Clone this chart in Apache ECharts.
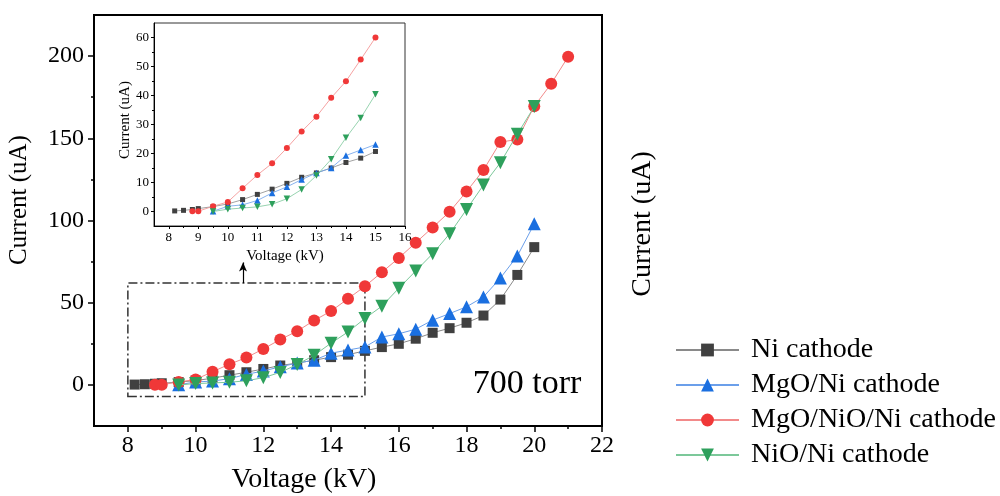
<!DOCTYPE html>
<html>
<head>
<meta charset="utf-8">
<script src="https://cdn.jsdelivr.net/npm/echarts@6/dist/echarts.min.js"></script>
<style>
html,body{margin:0;padding:0;background:#fff;}
#chart{width:1000px;height:496px;}
</style>
</head>
<body>
<div id="chart"></div>
<script>
// ---- data ----
const seriesNames = ['Ni cathode', 'MgO/Ni cathode', 'MgO/NiO/Ni cathode', 'NiO/Ni cathode'];

const niX = [8.2, 8.5, 8.8, 9, 9.5, 10, 10.5, 11, 11.5, 12, 12.5, 13, 13.5, 14, 14.5, 15, 15.5, 16, 16.5, 17, 17.5, 18, 18.5, 19, 19.5, 20];
const niY = [0.2, 0.4, 0.7, 1.0, 1.7, 2.6, 4.1, 5.9, 7.7, 9.7, 11.8, 13.3, 15.0, 16.9, 18.4, 20.7, 23.0, 25.0, 28.1, 31.7, 34.5, 37.8, 42.2, 51.9, 66.9, 83.8];

const mgoX = [9.5, 10, 10.5, 11, 11.5, 12, 12.5, 13, 13.5, 14, 14.5, 15, 15.5, 16, 16.5, 17, 17.5, 18, 18.5, 19, 19.5, 20];
const mgoY = [0.1, 1.8, 2.3, 3.8, 6.4, 8.5, 11.0, 13.3, 15.0, 19.3, 21.2, 23.1, 29.1, 31.1, 33.9, 39.4, 43.4, 47.5, 53.5, 65.0, 78.4, 98.0];

const mgoNioX = [8.8, 9, 9.5, 10, 10.5, 11, 11.5, 12, 12.5, 13, 13.5, 14, 14.5, 15, 15.5, 16, 16.5, 17, 17.5, 18, 18.5, 19, 19.5, 20, 20.5, 21];
const mgoNioY = [0.1, 0.1, 1.8, 3.3, 8.0, 12.6, 16.6, 21.9, 27.6, 32.7, 39.2, 44.9, 52.4, 60.0, 68.5, 77.2, 86.5, 95.8, 105.3, 117.6, 130.7, 147.7, 149.3, 169.5, 183.2, 199.6];

const nioX = [9.5, 10, 10.5, 11, 11.5, 12, 12.5, 13, 13.5, 14, 14.5, 15, 15.5, 16, 16.5, 17, 17.5, 18, 18.5, 19, 19.5, 20];
const nioY = [0.0, 0.8, 1.2, 1.6, 2.5, 4.4, 7.6, 12.4, 18.0, 25.4, 32.2, 40.4, 47.9, 58.8, 69.3, 79.8, 91.9, 106.7, 121.6, 135.2, 152.5, 169.3];

// tick labels
const mainXTicks = [8, 10, 12, 14, 16, 18, 20, 22];
const mainXMinor = [9, 11, 13, 15, 17, 19, 21];
const mainYTicks = [0, 50, 100, 150, 200];
const mainYMinor = [25, 75, 125, 175];
const insetXTicks = [8, 9, 10, 11, 12, 13, 14, 15, 16];
const insetXMinor = [8.5, 9.5, 10.5, 11.5, 12.5, 13.5, 14.5, 15.5];
const insetYTicks = [0, 10, 20, 30, 40, 50, 60];
const insetYMinor = [5, 15, 25, 35, 45, 55];
const insetMaxX = 15;

// zoom-box annotation (data coordinates)
const zoomBox = { x0: 8, x1: 15, y0: -7, y1: 62 };
const arrowX = 11.4, arrowTop = 74.5;

// ---- styling ----
const FONT = 'Liberation Serif';
const markerColors = ['#404040', '#1a6fe0', '#f03838', '#2ea05c'];
const lineColors = ['#8a8a8a', '#6b9fea', '#f28a8a', '#7cc89a'];
const symbols = ['rect', 'triangle', 'circle', 'triangle'];
const mainSizes = [10, 13, 12, 13];
const insetSizes = [5, 6.5, 6, 6.5];
const rotations = [0, 0, 0, 180];

const xsAll = [niX, mgoX, mgoNioX, nioX];
const ysAll = [niY, mgoY, mgoNioY, nioY];

function pairs(xs, ys, maxX) {
  const out = [];
  for (let i = 0; i < xs.length; i++) {
    if (maxX == null || xs[i] <= maxX) out.push([xs[i], ys[i]]);
  }
  return out;
}

function axisBase(gridIndex, position, min, max, ticks, tickLen, labels, fontSize, margin, lineW) {
  return {
    type: 'value', gridIndex, position, min, max,
    axisLine: { show: !!labels, onZero: false, lineStyle: { color: '#000', width: lineW } },
    axisTick: { show: true, customValues: ticks, length: tickLen, inside: false, lineStyle: { color: '#000', width: lineW } },
    axisLabel: labels ? { show: true, customValues: ticks, color: '#000', fontFamily: FONT, fontSize, margin } : { show: false },
    splitLine: { show: false },
    minorTick: { show: false },
    minorSplitLine: { show: false }
  };
}

const xAxes = [
  axisBase(0, 'bottom', 7, 22, mainXTicks, 6, true, 24, 8, 1.5),
  axisBase(0, 'bottom', 7, 22, mainXMinor, 3, false, 24, 8, 1.5),
  axisBase(1, 'bottom', 7.5, 16, insetXTicks, 3, true, 13, 5, 1),
  axisBase(1, 'bottom', 7.5, 16, insetXMinor, 2, false, 13, 5, 1)
];
const yAxes = [
  axisBase(0, 'left', -25, 225, mainYTicks, 6, true, 24, 10, 1.5),
  axisBase(0, 'left', -25, 225, mainYMinor, 3, false, 24, 10, 1.5),
  axisBase(1, 'left', -5, 65, insetYTicks, 3, true, 13, 5, 1),
  axisBase(1, 'left', -5, 65, insetYMinor, 2, false, 13, 5, 1)
];

const series = [];
for (let k = 0; k < 4; k++) {
  const main = {
    name: seriesNames[k], type: 'line', xAxisIndex: 0, yAxisIndex: 0,
    data: pairs(xsAll[k], ysAll[k]),
    symbol: symbols[k], symbolSize: mainSizes[k], symbolRotate: rotations[k],
    showAllSymbol: true,
    itemStyle: { color: markerColors[k] },
    lineStyle: { color: lineColors[k], width: 1 },
    z: 3 + k
  };
  if (k === 0) {
    main.markArea = {
      silent: true,
      itemStyle: { color: 'rgba(0,0,0,0)', borderColor: '#333', borderWidth: 1.5, borderType: [9, 3, 2, 3] },
      label: { show: false },
      data: [[{ coord: [zoomBox.x0, zoomBox.y0] }, { coord: [zoomBox.x1, zoomBox.y1] }]]
    };
    main.markLine = {
      silent: true, symbol: ['none', 'arrow'], symbolSize: [6, 9],
      label: { show: false },
      lineStyle: { color: '#000', width: 1.2, type: 'solid' },
      data: [[{ coord: [arrowX, zoomBox.y1] }, { coord: [arrowX, arrowTop] }]]
    };
  }
  series.push(main);
  series.push({
    name: seriesNames[k], type: 'line', xAxisIndex: 2, yAxisIndex: 2,
    data: pairs(xsAll[k], ysAll[k], insetMaxX),
    symbol: symbols[k], symbolSize: insetSizes[k], symbolRotate: rotations[k],
    showAllSymbol: true,
    itemStyle: { color: markerColors[k] },
    lineStyle: { color: lineColors[k], width: 0.8 },
    z: 3 + k
  });
}

const chart = echarts.init(document.getElementById('chart'), null, { renderer: 'canvas' });
chart.setOption({
  animation: false,
  backgroundColor: '#fff',
  grid: [
    { left: 94, top: 15, width: 508, height: 411, show: true, borderColor: '#000', borderWidth: 2, backgroundColor: 'transparent', containLabel: false },
    { left: 154, top: 23, width: 251, height: 203, show: true, borderColor: '#333', borderWidth: 1, backgroundColor: '#fff', containLabel: false }
  ],
  xAxis: xAxes,
  yAxis: yAxes,
  legend: {
    data: seriesNames,
    orient: 'vertical', left: 670, top: 330,
    itemWidth: 63, itemHeight: 16, itemGap: 5,
    textStyle: { fontFamily: FONT, fontSize: 28, color: '#000', lineHeight: 30, padding: [0, 0, 0, 7] }
  },
  graphic: [
    { type: 'text', x: 19, y: 200, rotation: Math.PI / 2, style: { text: 'Current (uA)', font: '25px "Liberation Serif"', fill: '#000', align: 'center', verticalAlign: 'middle' } },
    { type: 'text', x: 643, y: 224, rotation: Math.PI / 2, style: { text: 'Current (uA)', font: '28px "Liberation Serif"', fill: '#000', align: 'center', verticalAlign: 'middle' } },
    { type: 'text', x: 304, y: 480, style: { text: 'Voltage (kV)', font: '28px "Liberation Serif"', fill: '#000', align: 'center', verticalAlign: 'middle' } },
    { type: 'text', x: 125, y: 120, rotation: Math.PI / 2, style: { text: 'Current (uA)', font: '15px "Liberation Serif"', fill: '#000', align: 'center', verticalAlign: 'middle' } },
    { type: 'text', x: 285, y: 256, style: { text: 'Voltage (kV)', font: '15px "Liberation Serif"', fill: '#000', align: 'center', verticalAlign: 'middle' } },
    { type: 'text', x: 527, y: 384, style: { text: '700 torr', font: '34px "Liberation Serif"', fill: '#000', align: 'center', verticalAlign: 'middle' } }
  ],
  series
});
</script>
</body>
</html>
